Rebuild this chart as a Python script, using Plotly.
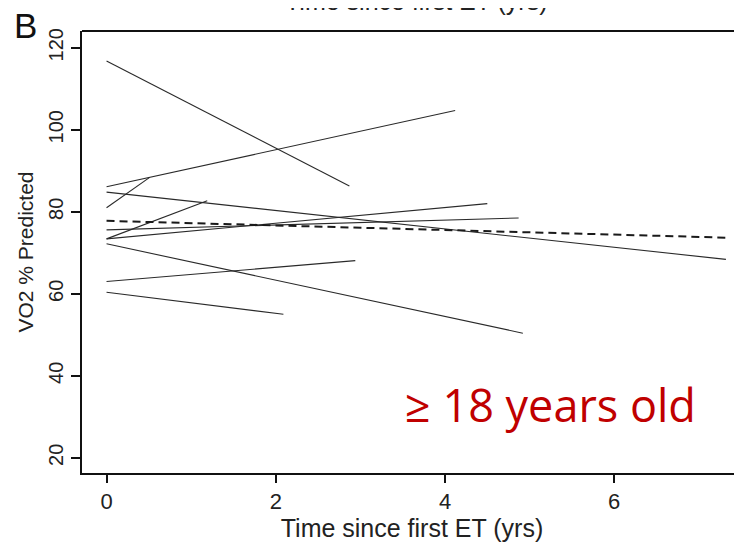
import plotly.graph_objects as go

# Individual patient trajectories: (start time, start VO2, end time, end VO2)
x_start = [0, 0, 0, 0, 0, 0, 0, 0, 0, 0]
y_start = [116.8, 86.1, 81.0, 84.8, 73.4, 75.6, 73.4, 72.2, 63.0, 60.4]
x_end = [2.87, 4.12, 0.51, 7.32, 1.19, 4.87, 4.50, 4.92, 2.94, 2.09]
y_end = [86.3, 104.7, 88.4, 68.4, 82.7, 78.5, 82.0, 50.4, 68.1, 55.0]

# Mean trajectory (dashed)
mean_x = [0, 7.32]
mean_y = [77.8, 73.7]

x_ticks = [0, 2, 4, 6]
y_ticks = [20, 40, 60, 80, 100, 120]

# The page body has an 8px margin, so the figure starts at (8, 8) in the window.
OFF = 8
W, H = 742 - OFF, 549 - OFF
ML, MR, MT, MB = 82 - OFF, 0, 31 - OFF, 549 - 473
PW, PH = W - ML - MR, H - MT - MB


def px(xp):
    # page x pixel -> paper coordinate
    return (xp - OFF - ML) / PW


def py(yp):
    # page y pixel -> paper coordinate
    return (H - MB - (yp - OFF)) / PH


fig = go.Figure()
for xs, ys, xe, ye in zip(x_start, y_start, x_end, y_end):
    fig.add_trace(go.Scatter(x=[xs, xe], y=[ys, ye], mode="lines",
                             line=dict(color="#2a2a2a", width=1.1),
                             showlegend=False, hoverinfo="skip"))
fig.add_trace(go.Scatter(x=mean_x, y=mean_y, mode="lines",
                         line=dict(color="#1a1a1a", width=2, dash="8px,5px"),
                         showlegend=False, hoverinfo="skip"))

FAM = "Liberation Sans, Arial, sans-serif"

fig.update_layout(
    width=W, height=H,
    margin=dict(l=ML, r=MR, t=MT, b=MB),
    plot_bgcolor="white", paper_bgcolor="white",
    xaxis=dict(range=[-0.29, 7.51], tickvals=x_ticks, showgrid=False, zeroline=False,
               automargin=False,
               showline=True, linecolor="#111", linewidth=2,
               ticks="outside", ticklen=8, tickcolor="#111", tickwidth=1.5,
               tickfont=dict(family=FAM, size=22, color="#222"),
               title=dict(text="Time since first ET (yrs)",
                          font=dict(family=FAM, size=25, color="#222"), standoff=0)),
    yaxis=dict(range=[16.3, 124.1], tickvals=y_ticks, showgrid=False, zeroline=False,
               automargin=False,
               showline=True, linecolor="#111", linewidth=2,
               ticks="outside", ticklen=9, tickcolor="#111", tickwidth=1.5,
               tickangle=-90, tickfont=dict(family=FAM, size=20, color="#222"),
               title=dict(text="VO2 % Predicted",
                          font=dict(family=FAM, size=21, color="#222"), standoff=6)),
    shapes=[dict(type="line", xref="paper", yref="paper", x0=0, x1=1, y0=1, y1=1,
                 line=dict(color="#111", width=2))],
    annotations=[
        dict(text="≥ 18 years old", x=px(550), y=py(404), xref="paper", yref="paper",
             xanchor="center", yanchor="middle", showarrow=False,
             font=dict(family="Open Sans, sans-serif", size=45, color="#C00000")),
        dict(text="B", x=px(25), y=py(25), xref="paper", yref="paper",
             xanchor="center", yanchor="middle", showarrow=False,
             font=dict(family=FAM, size=35, color="#111")),
        dict(text="Time since first ET (yrs)", x=px(416), y=py(17), xref="paper",
             yref="paper", xanchor="center", yanchor="bottom", showarrow=False,
             font=dict(family=FAM, size=25, color="#222")),
    ],
)

fig.write_html("out.html")
